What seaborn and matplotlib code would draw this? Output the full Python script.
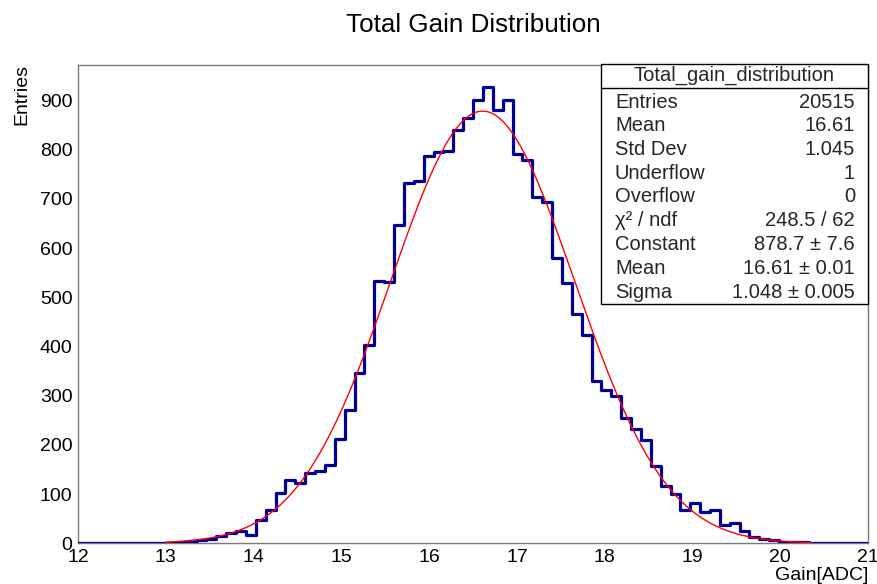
import numpy as np
import pandas as pd
import matplotlib
matplotlib.use("Agg")
import matplotlib.pyplot as plt
import seaborn as sns
from matplotlib.ticker import MultipleLocator
from matplotlib.patches import Rectangle
from matplotlib.lines import Line2D

# Histogram binning: 80 bins over [12, 21]
x_min, x_max, n_bins = 12.0, 21.0, 80

# Bin contents (entries per bin), left to right
counts = [
    0, 0, 0, 0, 0, 0, 0, 0, 0, 1,
    2, 4, 6, 9, 14, 20, 26, 17, 47, 68,
    102, 128, 123, 142, 146, 159, 213, 271, 347, 403,
    533, 532, 648, 732, 736, 787, 795, 798, 841, 865,
    901, 927, 881, 902, 792, 779, 705, 693, 580, 529,
    467, 424, 329, 311, 300, 255, 232, 211, 157, 117,
    100, 67, 81, 63, 67, 38, 42, 25, 13, 8,
    7, 3, 2, 2, 1, 0, 0, 0, 0, 0,
]

# Gaussian fit result
fit_constant, fit_mean, fit_sigma = 878.7, 16.61, 1.048
fit_range = (13.0, 20.35)

# Statistics box contents
stats_title = "Total_gain_distribution"
stats_labels = ["Entries", "Mean", "Std Dev", "Underflow", "Overflow",
                "χ² / ndf", "Constant", "Mean", "Sigma"]
stats_values = ["20515", "16.61", "1.045", "1", "0",
                "248.5 / 62", "878.7 ± 7.6", "16.61 ± 0.01", "1.048 ± 0.005"]

sns.set_theme(style="white")
plt.rcParams["font.family"] = ["Liberation Sans", "DejaVu Sans"]

W, H = 878, 584
fig = plt.figure(figsize=(W / 100, H / 100), dpi=100)
fig.patch.set_facecolor("white")

ax_l, ax_r, ax_t, ax_b = 78, 868, 64.7, 543.3
ax = fig.add_axes([ax_l / W, 1 - ax_b / H, (ax_r - ax_l) / W, (ax_b - ax_t) / H])

bin_width = (x_max - x_min) / n_bins
centers = x_min + bin_width * (np.arange(n_bins) + 0.5)
hist_df = pd.DataFrame({"gain": centers, "entries": counts})

sns.histplot(data=hist_df, x="gain", weights="entries", bins=n_bins,
             binrange=(x_min, x_max), element="step", fill=False,
             color="#000099", linewidth=2.3, ax=ax, zorder=3)

fx = np.linspace(fit_range[0], fit_range[1], 500)
fy = fit_constant * np.exp(-0.5 * ((fx - fit_mean) / fit_sigma) ** 2)
sns.lineplot(x=fx, y=fy, color="#ff0000", linewidth=1.0, ax=ax, zorder=4)

ax.set_xlim(x_min, x_max)
ax.set_ylim(0, 973)
ax.set_xlabel("")
ax.set_ylabel("")
ax.grid(False)

ax.xaxis.set_major_locator(MultipleLocator(1))
ax.xaxis.set_minor_locator(MultipleLocator(0.2))
ax.yaxis.set_major_locator(MultipleLocator(100))
ax.yaxis.set_minor_locator(MultipleLocator(20))

for sp in ax.spines.values():
    sp.set_color("#7a7a7a")
    sp.set_linewidth(1.0)

ax.tick_params(axis="both", which="both", direction="in", top=False, right=False,
               color="#7a7a7a", width=1.0, labelsize=14, labelcolor="black")
ax.tick_params(axis="x", which="major", length=10.3, pad=4)
ax.tick_params(axis="x", which="minor", length=5.2)
ax.tick_params(axis="y", which="major", length=17, pad=4)
ax.tick_params(axis="y", which="minor", length=8.5)

# Title and axis titles
fig.text(473 / W, 1 - 25 / H, "Total Gain Distribution", ha="center", va="center",
         fontsize=18.7, color="black")
fig.text(22 / W, 1 - 64 / H, "Entries", ha="center", va="top", rotation=90,
         fontsize=14, color="black")
fig.text(868 / W, 1 - 576 / H, "Gain[ADC]", ha="right", va="center",
         fontsize=14, color="black")

# Statistics box
bx0, bx1, by0, by1 = 601, 868, 64, 304
box = Rectangle((bx0 / W, 1 - by1 / H), (bx1 - bx0) / W, (by1 - by0) / H,
                transform=fig.transFigure, facecolor="white", edgecolor="black",
                linewidth=1.0, zorder=10)
fig.add_artist(box)
fig.add_artist(Line2D([bx0 / W, bx1 / W], [1 - 88 / H, 1 - 88 / H],
                      transform=fig.transFigure, color="black", linewidth=1.0, zorder=11))
fig.text((bx0 + bx1) / 2 / W, 1 - 75.5 / H, stats_title, ha="center", va="center",
         fontsize=14.5, zorder=12)
row_y0, row_dy = 102, 23.75
for i, (lab, val) in enumerate(zip(stats_labels, stats_values)):
    yy = 1 - (row_y0 + i * row_dy) / H
    fig.text(615 / W, yy, lab, ha="left", va="center", fontsize=14.5, zorder=12)
    fig.text(855 / W, yy, val, ha="right", va="center", fontsize=14.5, zorder=12)

fig.savefig("out.png", dpi=100, facecolor="white")
